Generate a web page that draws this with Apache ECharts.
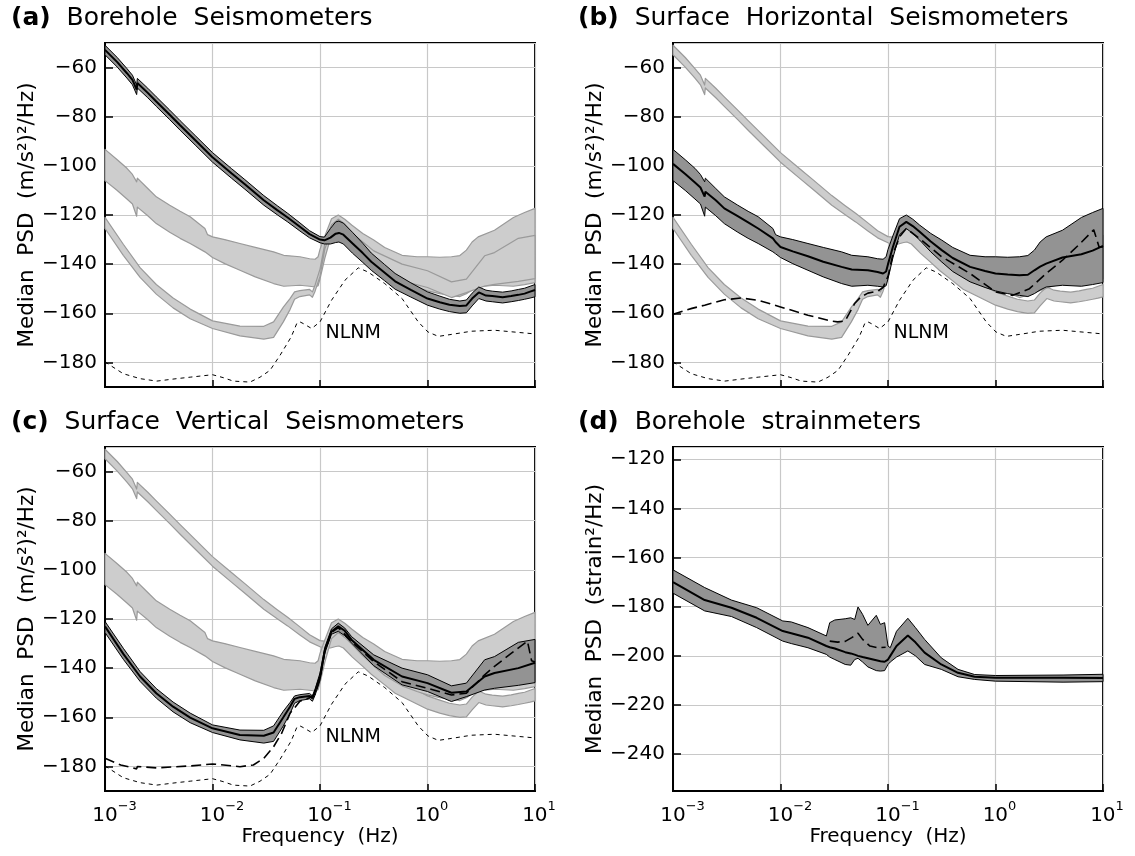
<!DOCTYPE html>
<html><head><meta charset="utf-8">
<script src="https://cdn.jsdelivr.net/npm/echarts@6/dist/echarts.min.js"></script>
<style>html,body{margin:0;padding:0;background:#fff}#c{width:1135px;height:856px}</style>
</head><body><div id="c"></div>
<script>
// ---------------- DATA ----------------
// Borehole seismometers (band A)
const fA   = [0.001,0.0013,0.0016,0.0018,0.00197,0.002,0.0025,0.003,0.004,0.005,0.007,0.01,0.015,0.02,0.03,0.04,0.05,0.065,0.08,0.1,0.11,0.125,0.14,0.15,0.165,0.2,0.25,0.3,0.4,0.5,0.7,1,1.3,1.6,2,2.3,2.6,3,3.5,4,5,6,7,8,9,10];
const medA = [-52.8,-57.8,-62.3,-65.0,-69.0,-66.3,-70.3,-73.8,-79.2,-83.5,-89.8,-96.5,-103.0,-107.5,-114.0,-118.0,-121.0,-124.8,-127.8,-130.0,-130.3,-129.2,-127.6,-127.3,-128.0,-131.5,-135.5,-139.0,-143.5,-147.0,-150.5,-154.0,-155.5,-156.5,-157.0,-156.8,-154.0,-151.5,-152.8,-153.0,-153.5,-153.0,-152.5,-152.0,-151.2,-150.5];
const hiA  = [-50.9,-55.9,-60.4,-63.1,-67.1,-64.4,-68.4,-71.9,-77.3,-81.6,-87.9,-94.6,-101.1,-105.6,-112.1,-116.2,-119.3,-123.2,-126.4,-128.8,-129.0,-125.5,-122.8,-122.5,-123.3,-127.0,-131.5,-135.5,-140.2,-143.8,-147.6,-151.3,-153.0,-154.3,-155.0,-154.6,-151.8,-149.3,-150.6,-151.0,-151.4,-150.9,-150.3,-149.8,-149.0,-148.3];
const loA  = [-54.8,-59.8,-64.3,-67.0,-71.0,-68.3,-72.3,-75.8,-81.2,-85.5,-91.8,-98.5,-105.0,-109.5,-116.0,-119.9,-122.8,-126.5,-129.3,-131.3,-131.8,-131.8,-131.2,-131.0,-131.8,-135.5,-139.3,-142.5,-146.8,-150.2,-153.4,-156.7,-158.3,-159.3,-160.0,-159.8,-157.0,-154.0,-155.0,-155.3,-155.8,-155.3,-154.8,-154.3,-153.8,-153.3];

// Surface horizontal seismometers (band B)
const fB   = [0.001,0.0013,0.0016,0.0018,0.00197,0.002,0.0025,0.003,0.004,0.005,0.0062,0.0085,0.009,0.01,0.013,0.018,0.025,0.037,0.046,0.065,0.08,0.09,0.096,0.1,0.111,0.128,0.148,0.17,0.197,0.25,0.316,0.4,0.58,0.8,1,1.3,1.67,2,2.3,2.6,2.96,4.2,6.3,8,10];
const medB = [-99.2,-103.3,-106.8,-108.8,-112.5,-110.5,-114.0,-117.3,-120.5,-123.0,-125.5,-129.5,-131.0,-133.0,-134.8,-136.8,-139.0,-141.1,-142.2,-142.5,-143.2,-143.8,-143.0,-140.0,-133.0,-124.8,-122.8,-124.5,-126.8,-130.8,-134.3,-137.5,-141.1,-142.8,-143.8,-144.2,-144.5,-144.3,-142.5,-141.0,-139.8,-137.3,-136.0,-134.5,-132.6];
const hiB  = [-93.3,-97.5,-101.0,-103.5,-106.5,-105.0,-109.2,-112.6,-116.0,-118.5,-120.7,-125.5,-128.0,-128.9,-130.0,-131.6,-133.2,-135.0,-136.4,-137.0,-137.8,-138.0,-137.0,-134.0,-128.5,-121.5,-120.0,-121.7,-124.1,-127.5,-130.2,-133.2,-136.4,-137.0,-137.0,-137.2,-137.0,-136.5,-134.3,-131.0,-128.9,-126.2,-121.0,-119.0,-117.3];
const loB  = [-106.0,-110.0,-113.5,-115.5,-120.5,-116.8,-120.3,-123.5,-127.0,-129.5,-131.6,-135.0,-135.8,-137.3,-139.8,-142.5,-145.2,-147.9,-149.0,-148.6,-149.0,-149.3,-148.8,-146.0,-137.5,-128.0,-125.5,-127.5,-130.2,-135.0,-139.1,-143.0,-147.2,-149.5,-150.9,-152.0,-152.7,-153.2,-152.0,-150.5,-149.3,-148.6,-149.0,-148.3,-147.5];
const fBd   = [0.001,0.0015,0.00197,0.003,0.0043,0.0062,0.01,0.018,0.03,0.034,0.04,0.049,0.056,0.065,0.08,0.09,0.1,0.111,0.128,0.148,0.197,0.316,0.58,1,1.45,2.07,2.96,4.2,6,8.2,9.2,10];
const dashB = [-160.4,-158.0,-156.7,-154.5,-153.8,-154.7,-157.4,-160.8,-163.2,-163.5,-163.1,-156.0,-153.3,-151.8,-151.0,-149.5,-145.0,-136.0,-128.9,-125.5,-129.6,-137.0,-143.8,-151.3,-152.7,-150.0,-143.8,-138.4,-132.0,-126.0,-133.0,-133.0];

// Surface vertical seismometers (band C)
const fC   = [0.001,0.00148,0.00212,0.003,0.0043,0.0062,0.01,0.018,0.03,0.037,0.0456,0.0526,0.058,0.065,0.08,0.085,0.09,0.1,0.111,0.128,0.148,0.17,0.197,0.316,0.58,1,1.67,2.3,3.4,4.2,7,10];
const medC = [-123.0,-134.2,-143.4,-150.2,-155.7,-160.1,-164.5,-167.2,-167.5,-166.2,-160.0,-155.7,-152.5,-151.8,-151.3,-152.3,-149.5,-143.4,-132.6,-125.1,-123.0,-124.8,-128.5,-136.6,-143.4,-146.1,-150.0,-149.5,-143.4,-142.0,-140.0,-137.8];
const hiC  = [-121.0,-131.9,-141.4,-148.3,-153.8,-158.3,-163.1,-165.2,-165.3,-163.5,-157.5,-154.0,-151.3,-150.8,-150.3,-151.3,-148.5,-142.0,-131.5,-124.0,-121.7,-123.7,-127.2,-134.6,-140.0,-142.7,-147.2,-146.1,-136.6,-135.3,-129.5,-128.3];
const loC  = [-125.5,-136.4,-145.4,-152.2,-157.8,-162.2,-166.2,-169.2,-170.5,-169.8,-163.5,-158.5,-154.3,-153.2,-152.5,-153.5,-151.0,-145.0,-133.8,-126.2,-125.0,-126.8,-129.8,-139.0,-146.8,-149.5,-153.6,-151.6,-148.9,-148.2,-147.0,-145.9];
const fCd   = [0.001,0.0014,0.0017,0.00197,0.002,0.003,0.0062,0.01,0.018,0.024,0.03,0.037,0.044,0.0526,0.065,0.08,0.09,0.1,0.111,0.128,0.148,0.2,0.316,0.58,1,1.67,2.3,3.4,4.2,6,8.5,9.3,10];
const dashC = [-176.7,-179.4,-180.3,-181.0,-180.0,-180.6,-179.8,-179.0,-180.1,-179.4,-176.7,-172.0,-166.5,-158.4,-153.5,-152.0,-150.5,-144.0,-133.0,-125.5,-123.5,-129.5,-137.3,-145.5,-148.2,-150.9,-150.2,-142.7,-139.3,-134.0,-129.0,-137.0,-137.5];

// New Low Noise Model
const fN   = [0.001,0.00148,0.00212,0.00303,0.00465,0.0062,0.01,0.0126,0.0156,0.0223,0.0277,0.0343,0.0425,0.054,0.061,0.065,0.07,0.0836,0.1,0.128,0.171,0.227,0.28,0.4,0.58,0.82,1.01,1.26,1.67,2.56,4.2,10];
const nlnm = [-179.8,-184.6,-186.6,-187.6,-186.6,-186.0,-185.0,-186.2,-187.6,-188.0,-186.0,-183.2,-177.1,-169.6,-164.0,-163.5,-164.2,-166.2,-163.5,-154.7,-146.5,-141.5,-143.2,-147.9,-154.0,-163.5,-167.6,-169.4,-168.6,-167.3,-166.9,-168.4];
const nlnmLabel = [[0.1114, -168]];

// Borehole strainmeters (band D)
const fD   = [0.001,0.00197,0.0035,0.006,0.0105,0.0126,0.018,0.0267,0.0287,0.032,0.04,0.045,0.049,0.0526,0.058,0.065,0.0778,0.085,0.093,0.1,0.105,0.12,0.153,0.18,0.219,0.313,0.448,0.64,1,4.25,10];
const medD = [-170.0,-177.3,-180.4,-184.5,-189.9,-190.8,-192.6,-196.0,-196.5,-197.0,-198.5,-199.0,-199.5,-200.0,-200.5,-201.0,-201.8,-202.2,-202.4,-201.5,-200.0,-196.0,-191.7,-194.5,-198.7,-203.5,-206.9,-208.5,-208.9,-208.9,-209.0];
const hiD  = [-165.0,-172.2,-177.3,-180.4,-185.8,-186.2,-188.5,-191.9,-186.5,-185.4,-184.9,-184.5,-185.2,-180.1,-183.1,-187.6,-183.5,-187.2,-186.5,-196.0,-196.7,-190.0,-184.7,-188.5,-193.3,-200.8,-205.5,-207.6,-208.0,-207.8,-207.5];
const loD  = [-174.5,-181.7,-184.0,-188.5,-194.0,-195.0,-196.7,-199.4,-200.5,-201.5,-203.5,-203.8,-201.5,-201.0,-202.5,-204.5,-206.0,-206.2,-206.0,-203.5,-202.5,-200.5,-198.0,-200.0,-203.5,-205.5,-208.5,-209.6,-210.3,-210.7,-210.5];
const fDd   = [0.0287,0.034,0.04,0.046,0.0526,0.058,0.068,0.08,0.095];
const dashD = [-194.0,-194.4,-194.1,-192.6,-190.8,-193.3,-196.0,-196.7,-196.5];

// Text
const panelTags   = ['(a)','(b)','(c)','(d)'];
const panelTitles = ['Borehole Seismometers','Surface Horizontal Seismometers','Surface Vertical Seismometers','Borehole strainmeters'];
const yNames      = ['Median PSD (m/s\u00B2)\u00B2/Hz)','Median PSD (m/s\u00B2)\u00B2/Hz)','Median PSD (m/s\u00B2)\u00B2/Hz)','Median PSD (strain\u00B2/Hz)'];
const xName       = 'Frequency (Hz)';
const yRanges     = [[-190,-50],[-190,-50],[-190,-50],[-255,-115]];
const xRange      = [0.001, 10];

// ---------------- CHART ----------------
const FONT = 'DejaVu Sans';
const sp = s => s.replace(/ /g, '  ');
const gridPos = [
  {left:105, top:43,  width:430, height:344},
  {left:673, top:43,  width:430, height:344},
  {left:105, top:447, width:430, height:344},
  {left:673, top:447, width:430, height:344}
];
const titlePos = [{left:11,top:6},{left:578,top:6},{left:11,top:410},{left:578,top:410}];

const DARK_FILL = '#939393', LIGHT_FILL = '#cdcdcd', LIGHT_EDGE = '#9a9a9a';

function pairs(f, v){ return f.map((x,i)=>[x, v[i]]); }

function band(g, f, lo, hi, dark, z){
  const data = f.map((x,i)=>[x, lo[i], hi[i]]);
  return {
    type:'custom', xAxisIndex:g, yAxisIndex:g, z:z, silent:true, animation:false,
    data:data, encode:{x:0, y:[1,2]},
    renderItem:function(params, api){
      if (params.dataIndex !== 0) return null;
      const up = data.map(d => api.coord([d[0], d[2]]));
      const dn = data.map(d => api.coord([d[0], d[1]])).reverse();
      return {
        type:'polygon', shape:{points: up.concat(dn)},
        style:{fill: dark ? DARK_FILL : LIGHT_FILL, stroke: dark ? '#000' : LIGHT_EDGE, lineWidth: dark ? 1 : 1.2, lineJoin:'round'}
      };
    }
  };
}
function line(g, f, v, kind, z){
  const ls = {color:'#000'};
  if (kind === 'median') { ls.width = 2; ls.type = 'solid'; }
  else if (kind === 'dash') { ls.width = 1.6; ls.type = [10,5]; }
  else { ls.width = 1; ls.type = [4,4]; }
  return {type:'line', xAxisIndex:g, yAxisIndex:g, z:z, data:pairs(f,v), showSymbol:false, symbol:'none',
          smooth:false, lineStyle:ls, silent:true, animation:false};
}
function nlnmText(g){
  return {type:'scatter', xAxisIndex:g, yAxisIndex:g, z:8, data:nlnmLabel, symbolSize:1, silent:true,
          itemStyle:{color:'rgba(0,0,0,0)'}, animation:false,
          label:{show:true, position:'right', distance:0, formatter:'NLNM', color:'#000', opacity:1,
                 fontFamily:FONT, fontSize:19}};
}

function xLabel(v){
  const e = Math.round(Math.log10(v));
  const s = (e < 0 ? '\u2212' : '') + Math.abs(e);
  return (e < 0 ? '{n|10}' : '{m|10}') + '{s|' + s + '}';
}

const grids = gridPos.map(p => Object.assign({show:true, borderColor:'#000', borderWidth:2, backgroundColor:'#fff', containLabel:false}, p));
const xAxes = gridPos.map((p,i) => ({
  type:'log', logBase:10, gridIndex:i, min:xRange[0], max:xRange[1],
  name: i >= 2 ? sp(xName) : '', nameLocation:'middle', nameGap:33,
  nameTextStyle:{fontFamily:FONT, fontSize:20, color:'#000'},
  axisLine:{show:true, onZero:false, lineStyle:{color:'#000', width:2}},
  axisTick:{show:true, inside:true, length:7, lineStyle:{color:'#000', width:1.5}},
  minorTick:{show:false}, minorSplitLine:{show:false},
  splitLine:{show:true, lineStyle:{color:'#c8c8c8', width:1.2}},
  axisLabel:{show: i >= 2, margin:9, formatter:xLabel, color:'#000',
    rich:{
      n:{fontFamily:FONT, fontSize:20, lineHeight:26, verticalAlign:'bottom', padding:[0,0,0,19], color:'#000'},
      m:{fontFamily:FONT, fontSize:20, lineHeight:26, verticalAlign:'bottom', padding:[0,0,0,8], color:'#000'},
      s:{fontFamily:FONT, fontSize:13, lineHeight:13, verticalAlign:'top', color:'#000'}
    }}
}));
const yAxes = gridPos.map((p,i) => ({
  type:'value', gridIndex:i, min:yRanges[i][0], max:yRanges[i][1], splitNumber:7,
  name: sp(yNames[i]), nameLocation:'middle', nameGap:66, nameRotate:90,
  nameTextStyle:{fontFamily:FONT, fontSize:21.5, color:'#000'},
  axisLine:{show:true, onZero:false, lineStyle:{color:'#000', width:2}},
  axisTick:{show:true, inside:true, length:8, lineStyle:{color:'#000', width:1.5}},
  splitLine:{show:true, lineStyle:{color:'#c8c8c8', width:1.2}},
  axisLabel:{show:true, margin:8, showMinLabel:false, showMaxLabel:false, color:'#000',
    fontFamily:FONT, fontSize:20,
    formatter: v => (v < 0 ? '\u2212' : '') + Math.abs(v)}
}));

const titles = titlePos.map((p,i) => ({
  text: '{b|' + panelTags[i] + '}  ' + sp(panelTitles[i]),
  left:p.left, top:p.top, padding:0,
  textStyle:{fontFamily:FONT, fontSize:25, fontWeight:'normal', color:'#000',
    rich:{b:{fontFamily:FONT, fontSize:25, fontWeight:'bold', color:'#000'}}}
}));

const series = [
  // (a)
  band(0, fB, loB, hiB, false, 2),
  band(0, fC, loC, hiC, false, 2),
  line(0, fN, nlnm, 'nlnm', 3),
  band(0, fA, loA, hiA, true, 4),
  line(0, fA, medA, 'median', 5),
  nlnmText(0),
  // (b)
  band(1, fA, loA, hiA, false, 2),
  band(1, fC, loC, hiC, false, 2),
  line(1, fN, nlnm, 'nlnm', 3),
  band(1, fB, loB, hiB, true, 4),
  line(1, fB, medB, 'median', 5),
  line(1, fBd, dashB, 'dash', 6),
  nlnmText(1),
  // (c)
  band(2, fA, loA, hiA, false, 2),
  band(2, fB, loB, hiB, false, 2),
  line(2, fN, nlnm, 'nlnm', 3),
  band(2, fC, loC, hiC, true, 4),
  line(2, fC, medC, 'median', 5),
  line(2, fCd, dashC, 'dash', 6),
  nlnmText(2),
  // (d)
  band(3, fD, loD, hiD, true, 4),
  line(3, fD, medD, 'median', 5),
  line(3, fDd, dashD, 'dash', 6)
];

const chart = echarts.init(document.getElementById('c'), null, {renderer:'canvas', width:1135, height:856});
chart.setOption({
  animation:false,
  backgroundColor:'#fff',
  textStyle:{fontFamily:FONT},
  title:titles,
  grid:grids, xAxis:xAxes, yAxis:yAxes,
  series:series
});
</script></body></html>
